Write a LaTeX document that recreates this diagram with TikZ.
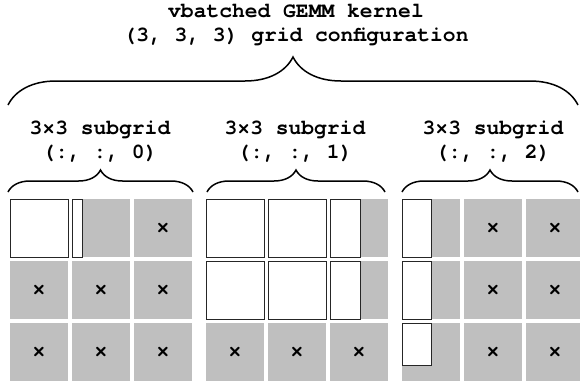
\documentclass[tikz,border=0pt]{standalone}
\usepackage{fontspec}
\setmainfont{texgyrecursor}[Extension=.otf, UprightFont=*-regular, BoldFont=*-bold]
\usepackage{xcolor}
\usetikzlibrary{decorations.pathreplacing}
\definecolor{cellgray}{RGB}{191,191,191}

\begin{document}
\begin{tikzpicture}[x=1pt, y=-1pt,
	cell/.style	= {fill=cellgray, minimum size=58pt, inner sep=0pt},
	blk/.style	= {draw=black!85, line width=1pt, fill=white, inner sep=0pt, anchor=north west},
	lbl/.style	= {font=\fontsize{21.3}{24}\selectfont\bfseries, align=center},
	xsign/.style	= {font=\fontsize{22}{22}\selectfont\bfseries, inner sep=0pt},
	brc/.style	= {decorate, decoration={brace, amplitude=#1}, line width=1.5pt}]
\useasboundingbox (0,0) rectangle (580,381);

% the three 3x3 subgrids
\foreach \k/\gx in {1/10, 2/206, 3/402}
	\foreach \r in {1,2,3}
		\foreach \c in {1,2,3}
			\node[cell]	(g\k-\r-\c)	at ({\gx+29+62*(\c-1)}, {228+62*(\r-1)})	{};

% idle blocks
\foreach \n in {g1-1-3, g1-2-1, g1-2-2, g1-2-3, g1-3-1, g1-3-2, g1-3-3,
		g2-3-1, g2-3-2, g2-3-3,
		g3-1-2, g3-1-3, g3-2-2, g3-2-3, g3-3-2, g3-3-3}
	\node[xsign]	(x\n)	at (\n)	{×};

% active parts of the blocks
\node[blk, minimum width=58, minimum height=58]	(w1)	at (g1-1-1.north west)	{};
\node[blk, minimum width=10, minimum height=58]	(w2)	at (g1-1-2.north west)	{};
\node[blk, minimum width=58, minimum height=58]	(w3)	at (g2-1-1.north west)	{};
\node[blk, minimum width=58, minimum height=58]	(w4)	at (g2-1-2.north west)	{};
\node[blk, minimum width=30, minimum height=58]	(w5)	at (g2-1-3.north west)	{};
\node[blk, minimum width=58, minimum height=58]	(w6)	at (g2-2-1.north west)	{};
\node[blk, minimum width=58, minimum height=58]	(w7)	at (g2-2-2.north west)	{};
\node[blk, minimum width=30, minimum height=58]	(w8)	at (g2-2-3.north west)	{};
\node[blk, minimum width=29, minimum height=58]	(w9)	at (g3-1-1.north west)	{};
\node[blk, minimum width=29, minimum height=58]	(w10)	at (g3-2-1.north west)	{};
\node[blk, minimum width=29, minimum height=42]	(w11)	at (g3-3-1.north west)	{};

% labels
\node[lbl]	(top)	at (296,25)	{vbatched GEMM kernel\\(3, 3, 3) grid configuration};
\node[lbl]	(sub1)	at (100,142)	{3×3 subgrid\\(:, :, 0)};
\node[lbl]	(sub2)	at (295,142)	{3×3 subgrid\\(:, :, 1)};
\node[lbl]	(sub3)	at (493,142)	{3×3 subgrid\\(:, :, 2)};

% braces
\coordinate	(tl)	at (8,105);
\coordinate	(tr)	at (578,105);
\coordinate	(s1l)	at (8,192);
\coordinate	(s1r)	at (193,192);
\coordinate	(s2l)	at (207,192);
\coordinate	(s2r)	at (385,192);
\coordinate	(s3l)	at (402,192);
\coordinate	(s3r)	at (578,192);
\draw[brc=48]	(tl)	-- (tr);
\draw[brc=22]	(s1l)	-- (s1r);
\draw[brc=22]	(s2l)	-- (s2r);
\draw[brc=22]	(s3l)	-- (s3r);
\end{tikzpicture}
\end{document}
